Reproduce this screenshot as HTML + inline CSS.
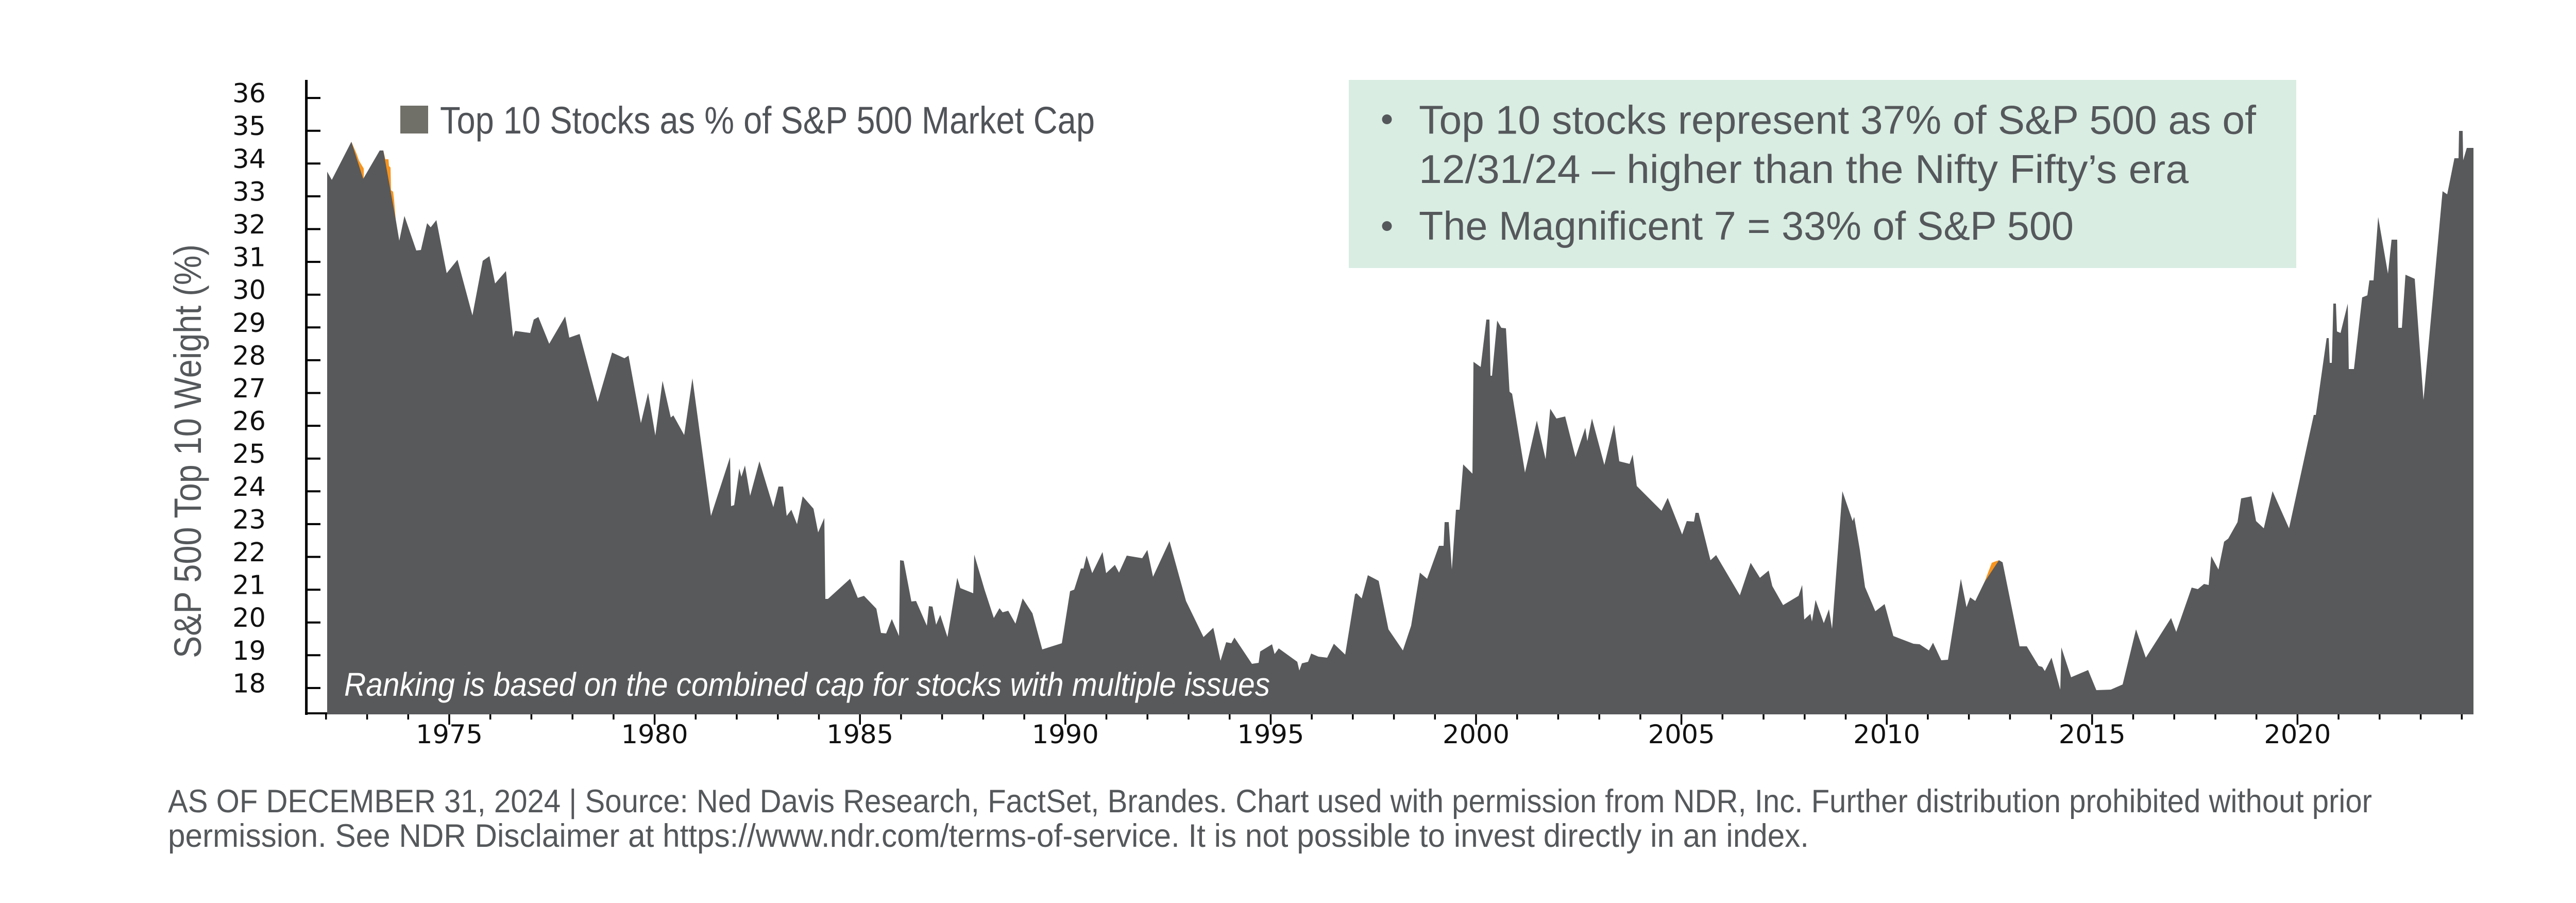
<!DOCTYPE html>
<html>
<head>
<meta charset="utf-8">
<style>
html,body{margin:0;padding:0;background:#ffffff;}
svg{display:block;}
</style>
</head>
<body>
<svg xmlns="http://www.w3.org/2000/svg" width="5100" height="1752" viewBox="0 0 5100 1752">
<rect x="0" y="0" width="5100" height="1752" fill="#ffffff"/>

<!-- info box -->
<rect x="2618" y="155" width="1839" height="365" fill="#d9ede3"/>
<circle cx="2692" cy="231.5" r="9.5" fill="#55585b"/>
<circle cx="2692" cy="438.6" r="9.5" fill="#55585b"/>
<g font-family="Liberation Sans, Arial, sans-serif" font-size="78" fill="#55585b">
<text x="2754" y="259.5" textLength="1625" lengthAdjust="spacingAndGlyphs">Top 10 stocks represent 37% of S&amp;P 500 as of</text>
<text x="2754" y="355" textLength="1494" lengthAdjust="spacingAndGlyphs">12/31/24 – higher than the Nifty Fifty’s era</text>
<text x="2754" y="465" textLength="1271" lengthAdjust="spacingAndGlyphs">The Magnificent 7 = 33% of S&amp;P 500</text>
</g>

<!-- legend -->
<rect x="777" y="205" width="54" height="54" fill="#706f68"/>
<text x="854" y="259" font-family="Liberation Sans, Arial, sans-serif" font-size="74" fill="#505358" textLength="1271" lengthAdjust="spacingAndGlyphs">Top 10 Stocks as % of S&amp;P 500 Market Cap</text>

<!-- black x axis base segment -->
<line x1="592" y1="1384" x2="700" y2="1384" stroke="#000" stroke-width="4"/>

<!-- orange series slivers -->
<g fill="#f7941d">
<polygon points="682,275 692,298 697,312 706,327 706,350 682,350"/>
<polygon points="744,292 748,309 754,309 755,322 758,325 759,369 763,372 765,389 768,425 769,440 744,440"/>
<polygon points="3852,1129 3866,1092 3871,1090 3880,1087 3880,1140 3852,1140"/>
</g>

<!-- main area series -->
<polygon fill="#58595b" points="635,333 644,349 682,275 705,347 737,292 744,292 768,425 775,467 785,419 808,486 817,485 829,433 836,441 847,427 867,530 888,504 917,612 937,506 950,497 961,550 982,526 996,654 1000,642 1029,646 1036,620 1045,615 1066,667 1097,614 1105,655 1125,648 1160,780 1188,684 1212,695 1220,690 1244,821 1258,762 1272,845 1286,739 1302,810 1307,806 1328,844 1344,734 1380,1001 1417,887 1419,982 1425,980 1435,909 1439,925 1446,903 1456,962 1474,895 1501,984 1511,944 1520,944 1527,1001 1536,989 1547,1017 1558,963 1579,987 1588,1033 1600,1005 1602,1162 1607,1162 1650,1123 1665,1160 1677,1156 1701,1181 1710,1228 1720,1229 1731,1201 1745,1234 1747,1087 1754,1088 1769,1167 1778,1166 1799,1214 1803,1176 1810,1177 1817,1212 1825,1193 1839,1236 1858,1121 1864,1141 1889,1151 1891,1076 1911,1144 1929,1199 1940,1180 1946,1188 1957,1185 1971,1210 1985,1161 2004,1190 2023,1260 2061,1248 2077,1147 2085,1144 2098,1103 2103,1103 2109,1078 2120,1112 2140,1071 2147,1112 2164,1096 2172,1111 2187,1078 2217,1083 2227,1067 2238,1119 2270,1050 2302,1166 2336,1236 2355,1218 2369,1282 2380,1246 2390,1248 2396,1237 2430,1288 2443,1286 2446,1264 2469,1250 2474,1269 2482,1258 2518,1284 2522,1301 2527,1287 2539,1284 2545,1268 2559,1274 2576,1276 2589,1249 2611,1270 2630,1153 2633,1151 2643,1161 2655,1116 2676,1127 2695,1221 2723,1262 2739,1214 2756,1111 2770,1123 2793,1059 2802,1059 2804,1013 2812,1013 2818,1105 2826,989 2833,989 2840,901 2858,919 2860,702 2874,712 2885,620 2891,620 2893,729 2896,729 2906,622 2914,636 2923,637 2930,760 2935,764 2960,917 2983,816 3000,891 3009,793 3021,812 3038,808 3058,887 3077,830 3081,856 3090,812 3114,902 3133,824 3143,895 3163,900 3169,882 3177,943 3225,991 3237,966 3265,1037 3274,1011 3288,1012 3291,995 3297,995 3320,1087 3331,1077 3377,1155 3398,1092 3416,1121 3433,1107 3440,1137 3461,1174 3491,1156 3498,1135 3502,1202 3514,1191 3517,1206 3524,1164 3540,1209 3550,1182 3556,1220 3576,953 3596,1011 3599,1003 3610,1067 3620,1139 3640,1186 3658,1172 3675,1234 3714,1249 3726,1250 3744,1262 3752,1247 3768,1281 3781,1280 3806,1123 3817,1178 3824,1159 3834,1166 3852,1129 3880,1087 3887,1091 3920,1254 3934,1254 3957,1292 3964,1294 3969,1302 3982,1276 3999,1338 4001,1256 4020,1314 4053,1300 4069,1339 4097,1338 4120,1328 4146,1221 4165,1276 4214,1199 4224,1226 4254,1140 4266,1143 4278,1133 4287,1135 4292,1079 4306,1105 4317,1051 4325,1045 4343,1013 4350,967 4370,963 4379,1011 4394,1025 4411,953 4443,1025 4491,805 4495,805 4516,656 4520,656 4522,704 4526,704 4529,589 4534,589 4536,643 4543,646 4557,589 4559,716 4569,716 4585,577 4595,573 4599,544 4607,544 4616,421 4635,531 4642,465 4653,465 4655,636 4662,636 4669,533 4687,541 4704,776 4741,371 4750,377 4764,307 4772,307 4773,254 4780,254 4781,311 4788,287 4801,287 4801,1386 635,1386"/>

<!-- italic note -->
<text x="668" y="1350" font-family="Liberation Sans, Arial, sans-serif" font-style="italic" font-size="64" fill="#ffffff" textLength="1797" lengthAdjust="spacingAndGlyphs">Ranking is based on the combined cap for stocks with multiple issues</text>

<!-- y axis -->
<line x1="594.6" y1="155" x2="594.6" y2="1387" stroke="#000" stroke-width="5"/>
<path stroke="#000" stroke-width="4" fill="none" d="M595 190.1H622 M595 253.7H622 M595 317.3H622 M595 380.9H622 M595 444.5H622 M595 508.1H622 M595 571.7H622 M595 635.3H622 M595 698.9H622 M595 762.5H622 M595 826.1H622 M595 889.7H622 M595 953.3H622 M595 1016.9H622 M595 1080.5H622 M595 1144.1H622 M595 1207.7H622 M595 1271.3H622 M595 1334.9H622"/>
<g font-family="DejaVu Sans, Liberation Sans, sans-serif" font-size="51" fill="#111" text-anchor="end">
<text x="516" y="198.6">36</text>
<text x="516" y="262.2">35</text>
<text x="516" y="325.8">34</text>
<text x="516" y="389.4">33</text>
<text x="516" y="453">32</text>
<text x="516" y="516.6">31</text>
<text x="516" y="580.2">30</text>
<text x="516" y="643.8">29</text>
<text x="516" y="707.4">28</text>
<text x="516" y="771">27</text>
<text x="516" y="834.6">26</text>
<text x="516" y="898.2">25</text>
<text x="516" y="961.8">24</text>
<text x="516" y="1025.4">23</text>
<text x="516" y="1089">22</text>
<text x="516" y="1152.6">21</text>
<text x="516" y="1216.2">20</text>
<text x="516" y="1279.8">19</text>
<text x="516" y="1343.4">18</text>
</g>

<!-- y axis title -->
<text transform="translate(390,875.5) rotate(-90)" text-anchor="middle" font-family="Liberation Sans, Arial, sans-serif" font-size="74" fill="#55585b" textLength="803" lengthAdjust="spacingAndGlyphs">S&amp;P 500 Top 10 Weight (%)</text>

<!-- x ticks -->
<path stroke="#000" stroke-width="3.5" fill="none" d="M632.8 1386v10 M712.6 1386v10 M792.3 1386v10 M872 1386v20 M951.7 1386v10 M1031.4 1386v10 M1111.2 1386v10 M1190.9 1386v10 M1270.6 1386v20 M1350.3 1386v10 M1430 1386v10 M1509.8 1386v10 M1589.5 1386v10 M1669.2 1386v20 M1748.9 1386v10 M1828.6 1386v10 M1908.4 1386v10 M1988.1 1386v10 M2067.8 1386v20 M2147.5 1386v10 M2227.2 1386v10 M2307 1386v10 M2386.7 1386v10 M2466.4 1386v20 M2546.1 1386v10 M2625.8 1386v10 M2705.6 1386v10 M2785.3 1386v10 M2865 1386v20 M2944.7 1386v10 M3024.4 1386v10 M3104.2 1386v10 M3183.9 1386v10 M3263.6 1386v20 M3343.3 1386v10 M3423 1386v10 M3502.8 1386v10 M3582.5 1386v10 M3662.2 1386v20 M3741.9 1386v10 M3821.6 1386v10 M3901.4 1386v10 M3981.1 1386v10 M4060.8 1386v20 M4140.5 1386v10 M4220.2 1386v10 M4300 1386v10 M4379.7 1386v10 M4459.4 1386v20 M4539.1 1386v10 M4618.8 1386v10 M4698.6 1386v10 M4778.3 1386v10"/>
<g font-family="DejaVu Sans, Liberation Sans, sans-serif" font-size="50" fill="#111" text-anchor="middle">
<text x="872" y="1442" textLength="130" lengthAdjust="spacingAndGlyphs">1975</text>
<text x="1270.6" y="1442" textLength="130" lengthAdjust="spacingAndGlyphs">1980</text>
<text x="1669.2" y="1442" textLength="130" lengthAdjust="spacingAndGlyphs">1985</text>
<text x="2067.8" y="1442" textLength="130" lengthAdjust="spacingAndGlyphs">1990</text>
<text x="2466.4" y="1442" textLength="130" lengthAdjust="spacingAndGlyphs">1995</text>
<text x="2865" y="1442" textLength="130" lengthAdjust="spacingAndGlyphs">2000</text>
<text x="3263.6" y="1442" textLength="130" lengthAdjust="spacingAndGlyphs">2005</text>
<text x="3662.2" y="1442" textLength="130" lengthAdjust="spacingAndGlyphs">2010</text>
<text x="4060.8" y="1442" textLength="130" lengthAdjust="spacingAndGlyphs">2015</text>
<text x="4459.4" y="1442" textLength="130" lengthAdjust="spacingAndGlyphs">2020</text>
</g>

<!-- footnote -->
<g font-family="Liberation Sans, Arial, sans-serif" font-size="63" fill="#55585b">
<text x="326" y="1576" textLength="4278" lengthAdjust="spacingAndGlyphs">AS OF DECEMBER 31, 2024 | Source: Ned Davis Research, FactSet, Brandes. Chart used with permission from NDR, Inc. Further distribution prohibited without prior</text>
<text x="326" y="1643" textLength="3185" lengthAdjust="spacingAndGlyphs">permission. See NDR Disclaimer at https://www.ndr.com/terms-of-service. It is not possible to invest directly in an index.</text>
</g>
</svg>
</body>
</html>
